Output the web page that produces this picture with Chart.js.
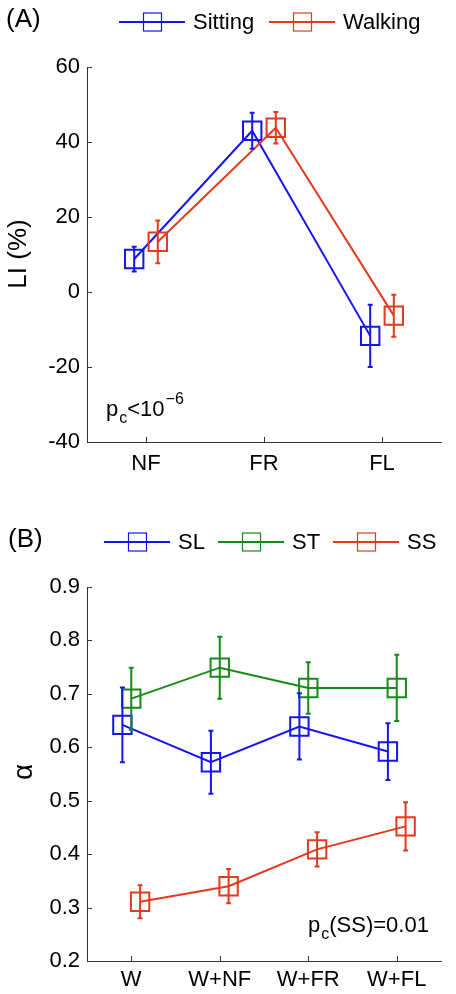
<!DOCTYPE html>
<html>
<head>
<meta charset="utf-8">
<script src="https://cdn.jsdelivr.net/npm/chart.js@4.4.0/dist/chart.umd.min.js"></script>
<style>
  html, body { margin: 0; padding: 0; background: #fff; }
  #wrap { position: relative; width: 456px; height: 994px; }
  canvas { position: absolute; left: 0; }
</style>
</head>
<body>
<div id="wrap">
  <canvas id="chartA" width="456" height="497" style="top:0"></canvas>
  <canvas id="chartB" width="456" height="497" style="top:497px"></canvas>
</div>
<script>
// panel A: laterality index
const catsA = ['NF', 'FR', 'FL'];
const sittingLI = [8.8, 43.0, -11.7];
const sittingErr = [3.3, 4.8, 8.3];
const walkingLI = [13.4, 43.8, -6.3];
const walkingErr = [5.7, 4.2, 5.6];
const ticksA = [-40, -20, 0, 20, 40, 60];

// panel B: alpha
const catsB = ['W', 'W+NF', 'W+FR', 'W+FL'];
const alphaSL = [0.642, 0.572, 0.639, 0.592];
const errSL = [0.070, 0.059, 0.062, 0.053];
const alphaST = [0.691, 0.749, 0.711, 0.711];
const errST = [0.058, 0.058, 0.048, 0.062];
const alphaSS = [0.311, 0.340, 0.409, 0.452];
const errSS = [0.031, 0.032, 0.032, 0.045];
const ticksB = [0.2, 0.3, 0.4, 0.5, 0.6, 0.7, 0.8, 0.9];

const BLUE = '#1414f0';
const RED = '#e3391c';
const GREEN = '#168a16';
const AXIS = '#333';
const FONT = "'Liberation Sans', Arial, Helvetica, sans-serif";

function series(label, vals, errs, shift, color) {
  return {
    label: label,
    data: vals.map((v, i) => ({ x: i + 1 + shift, y: v })),
    errors: errs,
    borderColor: color,
    borderWidth: 2,
    pointStyle: 'rect',
    pointRadius: 13,
    pointHoverRadius: 13,
    pointBorderWidth: 2,
    pointBackgroundColor: 'rgba(0,0,0,0)',
    pointBorderColor: color,
    tension: 0,
    clip: false
  };
}

const errorBars = {
  id: 'errorBars',
  afterDatasetsDraw(chart) {
    const ctx = chart.ctx;
    const xs = chart.scales.x, ys = chart.scales.y;
    chart.data.datasets.forEach(ds => {
      ctx.save();
      ctx.strokeStyle = ds.borderColor;
      ctx.lineWidth = 2;
      ds.data.forEach((p, i) => {
        const e = ds.errors[i];
        const px = xs.getPixelForValue(p.x);
        const top = ys.getPixelForValue(p.y + e);
        const bot = ys.getPixelForValue(p.y - e);
        ctx.beginPath();
        ctx.moveTo(px, top); ctx.lineTo(px, bot);
        ctx.moveTo(px - 2.5, top); ctx.lineTo(px + 2.5, top);
        ctx.moveTo(px - 2.5, bot); ctx.lineTo(px + 2.5, bot);
        ctx.stroke();
      });
      ctx.restore();
    });
  }
};

// inward tick marks, panel label, legend, axis title and note
function decor(cfg) {
  return {
    id: 'decor',
    afterDraw(chart) {
      const ctx = chart.ctx;
      const xs = chart.scales.x, ys = chart.scales.y;
      const a = chart.chartArea;
      ctx.save();
      ctx.strokeStyle = AXIS;
      ctx.lineWidth = 1;
      ys.ticks.forEach(t => {
        const py = Math.round(ys.getPixelForValue(t.value)) + 0.5;
        ctx.beginPath(); ctx.moveTo(a.left, py); ctx.lineTo(a.left + 5, py); ctx.stroke();
      });
      xs.ticks.forEach(t => {
        const px = Math.round(xs.getPixelForValue(t.value)) + 0.5;
        ctx.beginPath(); ctx.moveTo(px, a.bottom); ctx.lineTo(px, a.bottom - 5); ctx.stroke();
      });

      ctx.fillStyle = '#000';
      ctx.textBaseline = 'middle';
      ctx.textAlign = 'left';
      ctx.font = '26px ' + FONT;
      ctx.fillText(cfg.panel, cfg.panelX, cfg.legendY - 2);

      ctx.font = '22px ' + FONT;
      cfg.legend.forEach(it => {
        ctx.strokeStyle = it.color;
        ctx.lineWidth = 2;
        ctx.beginPath(); ctx.moveTo(it.x, cfg.legendY); ctx.lineTo(it.x + 66, cfg.legendY); ctx.stroke();
        ctx.lineWidth = 1.2;
        ctx.strokeRect(it.x + 24.5, cfg.legendY - 9, 18, 18);
        ctx.fillStyle = '#000';
        ctx.fillText(it.label, it.x + 74, cfg.legendY + 1);
      });

      ctx.save();
      ctx.translate(cfg.titleX, cfg.titleY);
      ctx.rotate(-Math.PI / 2);
      ctx.textAlign = 'center';
      ctx.font = cfg.titleSize + 'px ' + FONT;
      ctx.fillText(cfg.title, 0, 0);
      ctx.restore();

      // note like p_c<10^-6
      ctx.textBaseline = 'alphabetic';
      let x = cfg.note.x;
      const y = cfg.note.y;
      ctx.font = '22px ' + FONT;
      ctx.fillText('p', x, y); x += ctx.measureText('p').width + 1;
      ctx.font = '16px ' + FONT;
      ctx.fillText('c', x, y + 7); x += ctx.measureText('c').width;
      ctx.font = '22px ' + FONT;
      ctx.fillText(cfg.note.main, x, y); x += ctx.measureText(cfg.note.main).width;
      if (cfg.note.sup) {
        ctx.font = '16px ' + FONT;
        ctx.fillText(cfg.note.sup, x + 1, y - 12);
      }
      ctx.restore();
    }
  };
}

function makeOptions(cats, yMin, yMax, yTicks, padTop, xHeight, xPad, fmt) {
  return {
    responsive: false,
    animation: false,
    events: [],
    layout: { padding: { top: padTop, right: 7, left: 0, bottom: 0 } },
    plugins: { legend: { display: false }, tooltip: { enabled: false } },
    scales: {
      x: {
        type: 'linear',
        min: 0.5,
        max: cats.length + 0.5,
        afterBuildTicks: s => { s.ticks = cats.map((c, i) => ({ value: i + 1 })); },
        afterFit: s => { s.height = xHeight; },
        ticks: {
          callback: v => cats[Math.round(v) - 1],
          font: { size: 22, family: FONT },
          color: '#000',
          padding: xPad,
          maxRotation: 0,
          autoSkip: false
        },
        grid: { display: false, drawTicks: false },
        border: { display: true, color: AXIS, width: 1 }
      },
      y: {
        min: yMin,
        max: yMax,
        afterBuildTicks: s => { s.ticks = yTicks.map(v => ({ value: v })); },
        afterFit: s => { s.width = 87; },
        ticks: {
          callback: fmt,
          font: { size: 22, family: FONT },
          color: '#000',
          padding: 7
        },
        grid: { display: false, drawTicks: false },
        border: { display: true, color: AXIS, width: 1 }
      }
    }
  };
}

new Chart(document.getElementById('chartA'), {
  type: 'line',
  data: {
    datasets: [
      series('Walking', walkingLI, walkingErr, 0.1, RED),
      series('Sitting', sittingLI, sittingErr, -0.1, BLUE)
    ]
  },
  options: makeOptions(catsA, -40, 60, ticksA, 67, 55, 9, v => String(v)),
  plugins: [errorBars, decor({
    panel: '(A)', panelX: 6, legendY: 22,
    legend: [
      { label: 'Sitting', color: BLUE, x: 119 },
      { label: 'Walking', color: RED, x: 269 }
    ],
    title: 'LI (%)', titleSize: 26, titleX: 19, titleY: 254,
    note: { x: 106, y: 416, main: '<10', sup: '\u22126' }
  })]
});

new Chart(document.getElementById('chartB'), {
  type: 'line',
  data: {
    datasets: [
      series('SS', alphaSS, errSS, 0.1, RED),
      series('ST', alphaST, errST, 0, GREEN),
      series('SL', alphaSL, errSL, -0.1, BLUE)
    ]
  },
  options: makeOptions(catsB, 0.2, 0.9, ticksB, 90, 33, 6, v => v.toFixed(1)),
  plugins: [errorBars, decor({
    panel: '(B)', panelX: 8, legendY: 45,
    legend: [
      { label: 'SL', color: BLUE, x: 104 },
      { label: 'ST', color: GREEN, x: 218 },
      { label: 'SS', color: RED, x: 333 }
    ],
    title: '\u03b1', titleSize: 28, titleX: 24, titleY: 275,
    note: { x: 308, y: 435, main: '(SS)=0.01' }
  })]
});
</script>
</body>
</html>
